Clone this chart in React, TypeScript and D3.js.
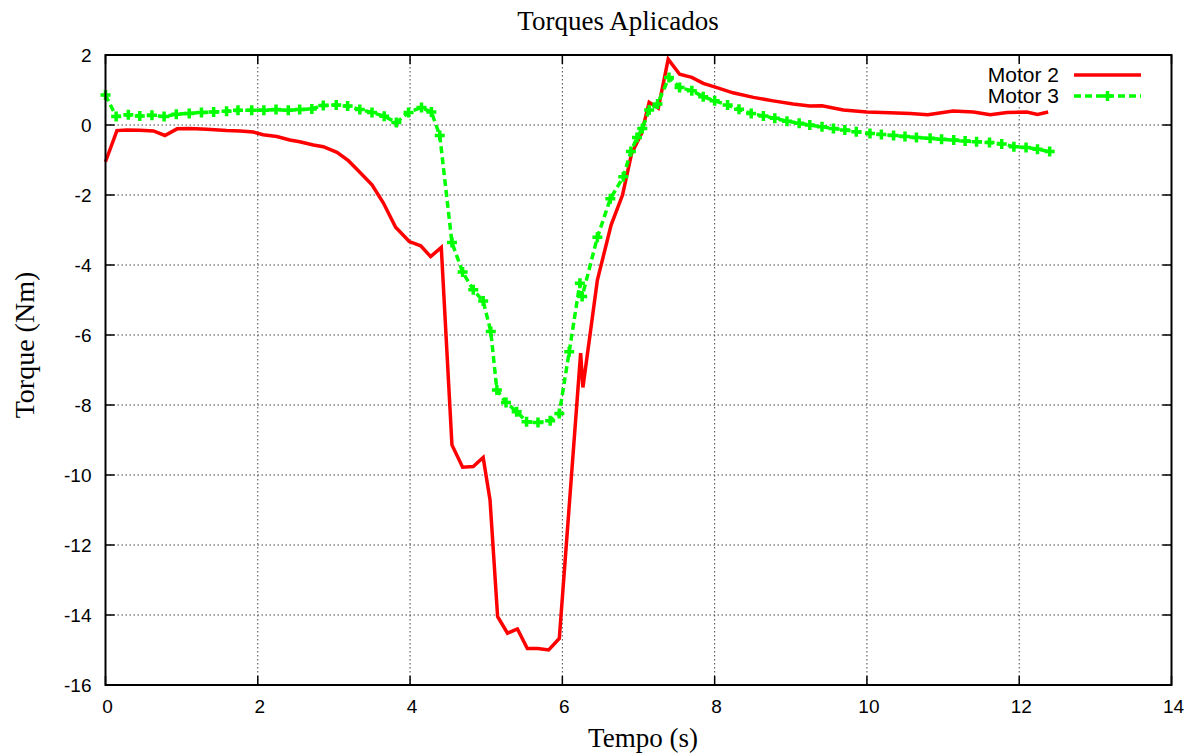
import React from "react";
import * as d3 from "d3";

const xTicks = [0, 2, 4, 6, 8, 10, 12, 14];
const yTicks = [2, 0, -2, -4, -6, -8, -10, -12, -14, -16];

const motor2Time = [0, 0.15, 0.28, 0.45, 0.63, 0.78, 0.94, 1.11, 1.33, 1.59, 1.77, 1.94, 2.07, 2.25, 2.42, 2.55, 2.73, 2.86, 3.04, 3.19, 3.34, 3.50, 3.65, 3.81, 3.99, 4.14, 4.27, 4.41, 4.55, 4.69, 4.83, 4.96, 5.05, 5.15, 5.28, 5.41, 5.54, 5.68, 5.82, 5.96, 6.24, 6.27, 6.46, 6.64, 6.79, 6.91, 7.04, 7.14, 7.26, 7.39, 7.54, 7.70, 7.85, 8.03, 8.24, 8.51, 8.77, 9.03, 9.25, 9.41, 9.69, 10.0, 10.3, 10.57, 10.8, 11.13, 11.4, 11.62, 11.84, 12.1, 12.24, 12.38];
const motor2Torque = [-1.05, -0.16, -0.14, -0.15, -0.17, -0.30, -0.11, -0.10, -0.12, -0.16, -0.17, -0.20, -0.28, -0.33, -0.43, -0.48, -0.57, -0.62, -0.78, -1.02, -1.35, -1.71, -2.23, -2.92, -3.33, -3.45, -3.76, -3.50, -9.14, -9.78, -9.76, -9.50, -10.71, -14.05, -14.52, -14.40, -14.96, -14.96, -15.0, -14.67, -6.52, -7.5, -4.43, -2.86, -2.0, -0.81, -0.24, 0.65, 0.48, 1.88, 1.45, 1.36, 1.19, 1.07, 0.92, 0.79, 0.69, 0.60, 0.54, 0.55, 0.43, 0.37, 0.35, 0.33, 0.29, 0.40, 0.37, 0.29, 0.36, 0.37, 0.30, 0.37];

const motor3Time = [0, 0.14, 0.30, 0.45, 0.61, 0.77, 0.93, 1.10, 1.26, 1.42, 1.59, 1.74, 1.92, 2.08, 2.24, 2.40, 2.55, 2.71, 2.86, 3.03, 3.18, 3.34, 3.50, 3.66, 3.82, 3.98, 4.15, 4.28, 4.39, 4.55, 4.69, 4.83, 4.96, 5.06, 5.14, 5.26, 5.40, 5.53, 5.68, 5.84, 5.96, 6.09, 6.23, 6.26, 6.46, 6.63, 6.80, 6.90, 6.98, 7.05, 7.14, 7.25, 7.40, 7.54, 7.70, 7.85, 8.00, 8.17, 8.32, 8.48, 8.64, 8.79, 8.95, 9.11, 9.25, 9.41, 9.56, 9.71, 9.86, 10.04, 10.19, 10.35, 10.50, 10.65, 10.83, 10.98, 11.14, 11.29, 11.44, 11.61, 11.77, 11.93, 12.09, 12.24, 12.40];
const motor3Torque = [0.86, 0.24, 0.29, 0.26, 0.28, 0.24, 0.31, 0.33, 0.36, 0.37, 0.39, 0.42, 0.42, 0.42, 0.44, 0.42, 0.44, 0.46, 0.56, 0.57, 0.54, 0.44, 0.36, 0.25, 0.07, 0.36, 0.50, 0.37, -0.30, -3.36, -4.20, -4.71, -5.03, -5.90, -7.57, -7.93, -8.19, -8.48, -8.50, -8.45, -8.24, -6.48, -4.52, -4.90, -3.21, -2.11, -1.48, -0.76, -0.36, -0.10, 0.43, 0.60, 1.36, 1.07, 0.98, 0.81, 0.69, 0.57, 0.45, 0.33, 0.26, 0.19, 0.11, 0.05, 0.00, -0.05, -0.10, -0.14, -0.19, -0.24, -0.27, -0.30, -0.33, -0.36, -0.38, -0.41, -0.43, -0.46, -0.48, -0.50, -0.54, -0.62, -0.64, -0.69, -0.76];

const seriesNames = ["Motor 2", "Motor 3"];

const W = 1195;
const H = 753;
const L = 105.5, R = 1171.5, T = 55, B = 685;

export default function App() {
  const x = d3.scaleLinear().domain([0, 14]).range([L, R]);
  const y = d3.scaleLinear().domain([-16, 2]).range([B, T]);
  const m2 = motor2Time.map((t, i) => [t, motor2Torque[i]] as [number, number]);
  const m3 = motor3Time.map((t, i) => [t, motor3Torque[i]] as [number, number]);
  const line = d3.line<[number, number]>().x(d => x(d[0])).y(d => y(d[1]));
  const tickFont = "'Liberation Sans', Arial, sans-serif";
  const serif = "'Liberation Serif', 'Times New Roman', serif";
  const plus = (cx: number, cy: number, k: string | number) => (
    <path key={k} d={`M${cx - 5},${cy}H${cx + 5}M${cx},${cy - 5}V${cy + 5}`} stroke="#00ff00" strokeWidth={3.5} fill="none" />
  );
  const ticklen = 9;
  return (
    <svg width={W} height={H} style={{ position: "absolute", left: 0, top: 0, background: "#fff" }}>
      <rect x={0} y={0} width={W} height={H} fill="#fff" />
      <g stroke="#444" strokeWidth={1} strokeDasharray="1.5,2.5">
        {xTicks.slice(1, -1).map(t => (
          <line key={"gx" + t} x1={x(t)} x2={x(t)} y1={T} y2={B} />
        ))}
        {yTicks.slice(1, -1).map(t => (
          <line key={"gy" + t} x1={L} x2={R} y1={y(t)} y2={y(t)} />
        ))}
      </g>
      <rect x={975} y={63} width={175} height={42} fill="#fff" />
      <g stroke="#000" strokeWidth={1.5}>
        {xTicks.map(t => (
          <g key={"tx" + t}>
            <line x1={x(t)} x2={x(t)} y1={B} y2={B - ticklen} />
            <line x1={x(t)} x2={x(t)} y1={T} y2={T + ticklen} />
          </g>
        ))}
        {yTicks.map(t => (
          <g key={"ty" + t}>
            <line x1={L} x2={L + ticklen} y1={y(t)} y2={y(t)} />
            <line x1={R} x2={R - ticklen} y1={y(t)} y2={y(t)} />
          </g>
        ))}
      </g>
      <g fontFamily={tickFont} fontSize={19} fill="#000">
        {xTicks.map(t => (
          <text key={"lx" + t} x={x(t) + 2} y={B + 28} textAnchor="middle">{t}</text>
        ))}
        {yTicks.map(t => (
          <text key={"ly" + t} x={L - 14} y={y(t) + 7} textAnchor="end">{t}</text>
        ))}
      </g>
      <path d={line(m2) || ""} fill="none" stroke="#ff0000" strokeWidth={3.5} strokeLinejoin="miter" />
      <path d={line(m3) || ""} fill="none" stroke="#00ff00" strokeWidth={3.5} strokeDasharray="7,4" />
      {m3.map((d, i) => plus(x(d[0]), y(d[1]), i))}
      <rect x={L} y={T} width={R - L} height={B - T} fill="none" stroke="#000" strokeWidth={2} />
      <g fontFamily={tickFont} fontSize={21} fill="#000">
        <text x={1059} y={82} textAnchor="end">{seriesNames[0]}</text>
        <text x={1059} y={103} textAnchor="end">{seriesNames[1]}</text>
      </g>
      <line x1={1074} x2={1141} y1={75} y2={75} stroke="#ff0000" strokeWidth={3.5} />
      <line x1={1074} x2={1141} y1={96} y2={96} stroke="#00ff00" strokeWidth={3.5} strokeDasharray="7,4" />
      {plus(1107.5, 96, "lg")}
      <text x={618} y={30} textAnchor="middle" fontFamily={serif} fontSize={27} fill="#000">Torques Aplicados</text>
      <text x={643} y={747} textAnchor="middle" fontFamily={serif} fontSize={27} fill="#000">Tempo (s)</text>
      <text transform={`translate(34,345) rotate(-90)`} textAnchor="middle" fontFamily={serif} fontSize={28} fill="#000">Torque (Nm)</text>
    </svg>
  );
}
